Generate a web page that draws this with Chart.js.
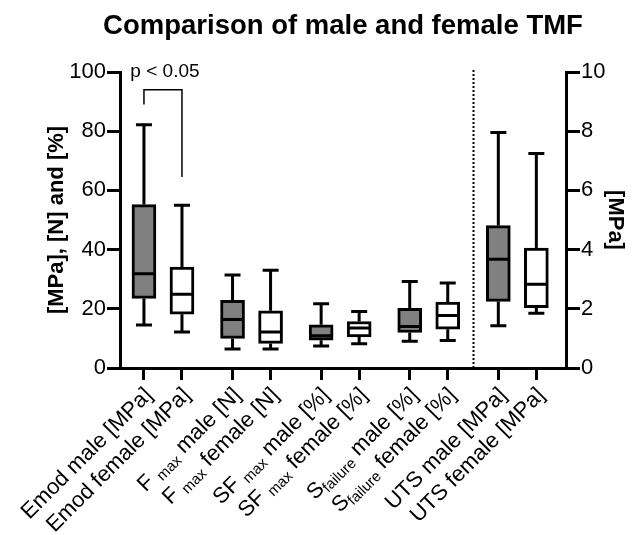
<!DOCTYPE html>
<html>
<head>
<meta charset="utf-8">
<script src="https://cdn.jsdelivr.net/npm/chart.js@4.4.0/dist/chart.umd.min.js"></script>
<style>
  html, body { margin: 0; padding: 0; background: #fff; }
  #wrap { width: 634px; height: 535px; }
</style>
</head>
<body>
<div id="wrap"><canvas id="chart" width="634" height="535"></canvas></div>
<script>
const chartTitle = 'Comparison of male and female TMF';
// {..} marks a subscript in a category label
const categories = [
    'Emod male [MPa]', 'Emod female [MPa]',
    'F {max} male [N]', 'F {max} female [N]',
    'SF {max} male [%]', 'SF {max} female [%]',
    'S{failure} male [%]', 'S{failure} female [%]',
    'UTS male [MPa]', 'UTS female [MPa]'
];
const whiskerLow  = [14.5, 12.2,  6.4,  6.4,  7.4,  8.2,  9.0,  9.3, 1.43, 1.85];
const quartile1   = [23.5, 18.2, 10.0,  8.3,  9.4, 10.5, 12.0, 13.1, 2.25, 2.04];
const medians     = [31.8, 24.9, 16.4, 12.2, 10.9, 13.5, 14.0, 17.7, 3.67, 2.83];
const quartile3   = [55.2, 34.1, 22.9, 19.3, 14.6, 15.7, 20.2, 22.3, 4.81, 4.05];
const whiskerHigh = [82.2, 55.0, 31.4, 33.0, 21.7, 19.1, 29.2, 28.7, 7.96, 7.25];
const onRightAxis = [false, false, false, false, false, false, false, false, true, true];
const isMale = [true, false, true, false, true, false, true, false, true, false];

const leftTicks = [0, 20, 40, 60, 80, 100];
const rightTicks = [0, 2, 4, 6, 8, 10];

// significance bracket between category 0 and 1
const bracketPair = [0, 1];
const bracketLevels = [94, 89, 64.5]; // top, left end, right end
const pValueLabel = 'p < 0.05';

const FONT = '"Liberation Sans", Arial, sans-serif';
Chart.defaults.font.family = FONT;
Chart.defaults.color = '#000';

// pairs sit a bit apart from each other
const xPos = i => i + Math.floor(i / 2) * 0.33;

function boxData(right) {
    const out = [];
    categories.forEach((c, i) => {
        if (onRightAxis[i] === right) out.push({ x: xPos(i), y: [quartile1[i], quartile3[i]] });
    });
    return out;
}
function boxColors(right) {
    return categories.map((c, i) => i).filter(i => onRightAxis[i] === right)
        .map(i => isMale[i] ? '#808080' : '#ffffff');
}

const boxPlugin = {
    id: 'boxExtras',
    afterDatasetsDraw(chart) {
        const { ctx, scales, chartArea } = chart;
        const x = scales.x;
        ctx.save();
        ctx.strokeStyle = '#000';
        ctx.lineWidth = 3;
        categories.forEach((c, i) => {
            const y = onRightAxis[i] ? scales.y1 : scales.y;
            const cx = x.getPixelForValue(xPos(i));
            const lo = y.getPixelForValue(whiskerLow[i]);
            const hi = y.getPixelForValue(whiskerHigh[i]);
            const md = y.getPixelForValue(medians[i]);
            ctx.beginPath();
            ctx.moveTo(cx, y.getPixelForValue(quartile1[i]));
            ctx.lineTo(cx, lo);
            ctx.moveTo(cx - 8, lo); ctx.lineTo(cx + 8, lo);
            ctx.moveTo(cx, y.getPixelForValue(quartile3[i]));
            ctx.lineTo(cx, hi);
            ctx.moveTo(cx - 8, hi); ctx.lineTo(cx + 8, hi);
            ctx.moveTo(cx - 11, md); ctx.lineTo(cx + 11, md);
            ctx.stroke();
        });

        // dotted separator between left and right axis groups
        const sx = Math.round(x.getPixelForValue((xPos(7) + xPos(8)) / 2)) + 0.5;
        ctx.lineWidth = 2;
        ctx.setLineDash([2, 2]);
        ctx.beginPath();
        ctx.moveTo(sx, chartArea.top - 2);
        ctx.lineTo(sx, chartArea.bottom);
        ctx.stroke();
        ctx.setLineDash([]);

        // significance bracket
        const y = scales.y;
        const bx0 = x.getPixelForValue(xPos(bracketPair[0]));
        const bx1 = x.getPixelForValue(xPos(bracketPair[1]));
        ctx.lineWidth = 1.5;
        ctx.beginPath();
        ctx.moveTo(bx0, y.getPixelForValue(bracketLevels[1]));
        ctx.lineTo(bx0, y.getPixelForValue(bracketLevels[0]));
        ctx.lineTo(bx1, y.getPixelForValue(bracketLevels[0]));
        ctx.lineTo(bx1, y.getPixelForValue(bracketLevels[2]));
        ctx.stroke();
        ctx.font = '19px ' + FONT;
        ctx.fillStyle = '#000';
        ctx.textAlign = 'center';
        ctx.textBaseline = 'alphabetic';
        ctx.fillText(pValueLabel, (bx0 + bx1) / 2 + 2, y.getPixelForValue(100) + 5);
        ctx.restore();
    },
    afterDraw(chart) {
        const { ctx, scales, chartArea } = chart;
        const x = scales.x;
        ctx.save();
        ctx.fillStyle = '#000';

        // title, centred over the plot area
        ctx.font = 'bold 27.5px ' + FONT;
        ctx.textAlign = 'center';
        ctx.textBaseline = 'alphabetic';
        ctx.fillText(chartTitle, (chartArea.left + chartArea.right) / 2, 34);

        // rotated category labels with subscripts
        const mainFont = '22px ' + FONT;
        const subFont = '15px ' + FONT;
        ctx.textBaseline = 'middle';
        ctx.textAlign = 'left';
        categories.forEach((label, i) => {
            const parts = label.split(/\{([^}]*)\}/);
            let total = 0;
            parts.forEach((p, k) => {
                ctx.font = k % 2 ? subFont : mainFont;
                total += ctx.measureText(p).width;
            });
            const px = x.getPixelForValue(xPos(i));
            ctx.save();
            ctx.translate(px + 5, 392);
            ctx.rotate(-Math.PI / 4);
            let cur = -total;
            parts.forEach((p, k) => {
                ctx.font = k % 2 ? subFont : mainFont;
                ctx.fillText(p, cur, k % 2 ? 6 : 0);
                cur += ctx.measureText(p).width;
            });
            ctx.restore();
        });
        ctx.restore();
    }
};

new Chart(document.getElementById('chart'), {
    type: 'bar',
    data: {
        datasets: [{
            data: boxData(false),
            yAxisID: 'y',
            backgroundColor: boxColors(false),
            borderColor: '#000',
            borderWidth: 3,
            borderSkipped: false,
            barThickness: 24,
            grouped: false
        }, {
            data: boxData(true),
            yAxisID: 'y1',
            backgroundColor: boxColors(true),
            borderColor: '#000',
            borderWidth: 3,
            borderSkipped: false,
            barThickness: 24,
            grouped: false
        }]
    },
    options: {
        responsive: false,
        animation: false,
        events: [],
        layout: { padding: { top: 72 } },
        plugins: {
            legend: { display: false },
            tooltip: { enabled: false },
            title: { display: false }
        },
        scales: {
            x: {
                type: 'linear',
                min: -0.63,
                max: 11.1,
                offset: false,
                afterBuildTicks: s => { s.ticks = categories.map((c, i) => ({ value: xPos(i) })); },
                afterFit: s => { s.height = 167; },
                ticks: { display: false },
                grid: { offset: false, drawOnChartArea: false, tickLength: 12, lineWidth: 3, color: '#000' },
                border: { color: '#000', width: 3 }
            },
            y: {
                position: 'left',
                min: 0,
                max: 100,
                afterBuildTicks: s => { s.ticks = leftTicks.map(v => ({ value: v })); },
                afterFit: s => { s.width = 120; },
                ticks: { font: { size: 22 }, color: '#000', padding: 1 },
                grid: { drawOnChartArea: false, tickLength: 13, lineWidth: 3, color: '#000' },
                border: { color: '#000', width: 3 },
                title: {
                    display: true,
                    text: '[MPa], [N] and [%]',
                    font: { size: 22, weight: 'bold' },
                    color: '#000',
                    padding: { top: 44, bottom: 0 }
                }
            },
            y1: {
                position: 'right',
                min: 0,
                max: 10,
                afterBuildTicks: s => { s.ticks = rightTicks.map(v => ({ value: v })); },
                afterFit: s => { s.width = 68; },
                ticks: { font: { size: 22 }, color: '#000', padding: 1 },
                grid: { drawOnChartArea: false, tickLength: 14, lineWidth: 3, color: '#000' },
                border: { color: '#000', width: 3 },
                title: {
                    display: true,
                    text: '[MPa]',
                    font: { size: 22, weight: 'bold' },
                    color: '#000',
                    padding: { top: 6, bottom: 0 }
                }
            }
        }
    },
    plugins: [boxPlugin]
});
</script>
</body>
</html>
